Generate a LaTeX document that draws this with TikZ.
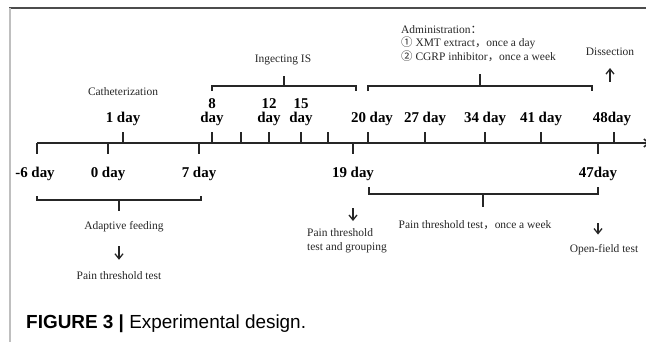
\documentclass[tikz,border=0pt]{standalone}
\usepackage{fontspec}
\setmainfont{Liberation Serif}
\newfontfamily\capfont{Liberation Sans}
\newfontfamily\cjk{Noto Sans CJK SC}
\usetikzlibrary{arrows.meta,positioning}

\begin{document}
\begin{tikzpicture}[
    x=1bp, y=-1bp,
    daylab/.style={font=\fontsize{15}{14}\selectfont\bfseries, inner sep=0pt, align=center},
    note/.style={font=\fontsize{11.5}{14}\selectfont, inner sep=0pt, align=center, text=black!85},
    tick/.style={line width=1.5bp, draw=black!85},
    brace/.style={line width=1.3bp, draw=black!85},
    arrow/.style={-{Straight Barb[length=5bp,width=8bp]}, line width=1.3bp, draw=black!85},
    axis/.style={-{Straight Barb[length=5bp,width=8bp]}, line width=1.5bp, draw=black!85}
]
    \useasboundingbox (0,0) rectangle (646,342);

    % --- FRAME ---
    \draw[black!70, line width=1.4bp] (9,8) -- (646,8);
    \draw[black!25, line width=2bp] (10,8) -- (10,342);

    % --- TIME AXIS ---
    \draw[axis] (37,143) -- (650,143);

    % Ticks below (labels under the axis)
    \foreach \name/\x in {m6/37, d0/108, d7/199, d19/353, d47/598}
        \draw[tick] (\x,143) -- (\x,154) coordinate (\name);
    % Ticks above (labels over the axis)
    \foreach \name/\x in {d1/123, d8/212, u1/241, d12/269, d15/301, u2/328, d20/368, d27/425, d34/485, d41/541, d48/614}
        \draw[tick] (\x,143) -- (\x,132) coordinate (\name);

    % --- DAY LABELS ---
    \node[daylab, below=13bp of m6, xshift=-2bp] (lm6) {-6 day};
    \node[daylab, below=13bp of d0] (l0) {0 day};
    \node[daylab, below=13bp of d7] (l7) {7 day};
    \node[daylab, below=13bp of d19] (l19) {19 day};
    \node[daylab, below=13bp of d47] (l47) {47day};

    \node[daylab, above=6.5bp of d1] (l1) {1 day};
    \node[daylab, above=6.5bp of d8] (l8) {8\\day};
    \node[daylab, above=6.5bp of d12] (l12) {12\\day};
    \node[daylab, above=6.5bp of d15] (l15) {15\\day};
    \node[daylab, above=6.5bp of d20, xshift=4bp] (l20) {20 day};
    \node[daylab, above=6.5bp of d27] (l27) {27 day};
    \node[daylab, above=6.5bp of d34] (l34) {34 day};
    \node[daylab, above=6.5bp of d41] (l41) {41 day};
    \node[daylab, above=6.5bp of d48, xshift=-2bp] (l48) {48day};

    % --- UPPER EVENTS ---
    \node[note] (cath) at (123,92) {Catheterization};
    \node[note] (ingect) at (283,60) {Ingecting IS};
    \node[note, align=left, anchor=north west, font=\fontsize{11.5}{13.5}\selectfont] (admin) at (401,25)
        {Administration{\cjk ：}\\{\cjk ①} XMT extract{\cjk ，}once a day\\{\cjk ②} CGRP inhibitor{\cjk ，}once a week};
    \node[note] (dissect) at (610,52) {Dissection};

    % Ingecting IS bracket
    \coordinate (isL) at (212,91);
    \coordinate (isR) at (356,91);
    \draw[brace] (isL) -- ++(0,-5) -| (isR);
    \draw[brace] (284,86) -- (284,76);

    % Administration bracket
    \coordinate (adL) at (368,91);
    \coordinate (adR) at (592,91);
    \draw[brace] (adL) -- ++(0,-5) -| (adR);
    \draw[brace] (480,86) -- (480,74);

    \draw[arrow, shorten <=30bp, shorten >=12bp] (l48.north -| dissect.south) -- (dissect.south);

    % --- LOWER EVENTS ---
    \node[note] (adapt) at (124,227) {Adaptive feeding};
    \node[note] (pain0) at (119,276) {Pain threshold test};
    \node[note, align=left, anchor=north west] (group) at (307,228) {Pain threshold\\test and grouping};
    \node[note] (weekly) at (475,225) {Pain threshold test{\cjk ，}once a week};
    \node[note] (open) at (604,250) {Open-field test};

    % Adaptive feeding bracket
    \coordinate (afL) at (37,196);
    \coordinate (afR) at (201,196);
    \draw[brace] (afL) -- ++(0,4) -| (afR);
    \draw[brace] (119,200) -- (119,211);

    % Weekly test bracket
    \coordinate (wkL) at (369,187);
    \coordinate (wkR) at (598,187);
    \draw[brace] (wkL) -- ++(0,7) -| (wkR);
    \draw[brace] (483,194) -- (483,207);

    % Down arrows
    \draw[arrow, shorten <=14bp, shorten >=12bp] (pain0.north |- adapt.south) -- (pain0.north);
    \draw[arrow, shorten <=27bp, shorten >=7bp] (l19.south) -- (l19.south |- group.north);
    \draw[arrow, shorten <=42bp, shorten >=10bp] (l47.south) -- (l47.south |- open.north);

    % --- CAPTION ---
    \node[anchor=base west, inner sep=0pt, font=\capfont\fontsize{19}{19}\selectfont] (caption) at (26,328)
        {\textbf{FIGURE 3 |} Experimental design.};

\end{tikzpicture}
\end{document}
